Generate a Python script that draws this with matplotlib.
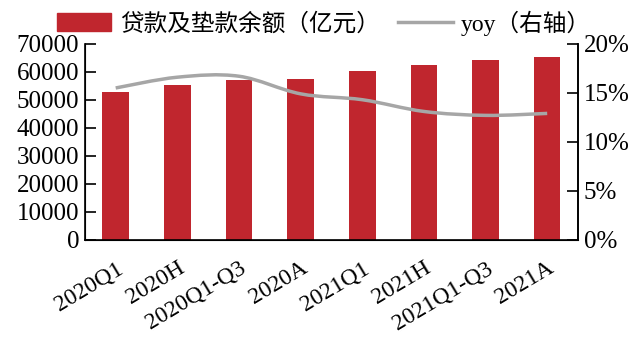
import numpy as np
import matplotlib
matplotlib.use('Agg')
import matplotlib.pyplot as plt
from matplotlib.path import Path
from matplotlib.patches import PathPatch, Patch
from matplotlib.lines import Line2D

# data
periods = ['2020Q1', '2020H', '2020Q1-Q3', '2020A',
           '2021Q1', '2021H', '2021Q1-Q3', '2021A']
loans = [52900, 55300, 57100, 57600, 60300, 62500, 64300, 65200]
yoy = [15.5, 16.6, 16.7, 14.9, 14.3, 13.1, 12.7, 12.9]

plt.rcParams['font.family'] = ['Liberation Serif', 'Noto Sans CJK SC']
plt.rcParams['font.size'] = 18

bar_color = '#C0262E'
line_color = '#A6A6A6'

fig = plt.figure(figsize=(6.38, 3.38), dpi=100)
ax = fig.add_axes([0.133, 0.291, 0.773, 0.579])
x = np.arange(len(periods))
ax.bar(x, loans, width=0.43, color=bar_color, zorder=2)
ax.set_xlim(-0.5, len(periods) - 0.5)
ax.set_ylim(0, 70000)
ax.set_yticks(range(0, 70001, 10000))
ax.set_xticks(x)
ax.set_xticklabels(periods, rotation=31, ha='right', rotation_mode='anchor',
                   fontsize=17)
ax.tick_params(axis='x', length=0, pad=13)
ax.tick_params(axis='y', direction='in', length=8, width=1.2, pad=4)
ax.spines['top'].set_visible(False)
for s in ['left', 'right', 'bottom']:
    ax.spines[s].set_linewidth(1.2)

ax2 = ax.twinx()
ax2.set_ylim(0, 20)
ax2.set_yticks([0, 5, 10, 15, 20])
ax2.set_yticklabels([f'{v}%' for v in [0, 5, 10, 15, 20]])
ax2.tick_params(axis='y', direction='in', length=8, width=1.2, pad=4)
ax2.spines['top'].set_visible(False)
ax2.spines['right'].set_linewidth(1.2)

# smoothed line (Catmull-Rom as cubic Bezier segments)
xs = list(x)
ys = list(yoy)
verts = [(xs[0], ys[0])]
codes = [Path.MOVETO]
n = len(xs)
for i in range(n - 1):
    p0 = (xs[max(i - 1, 0)], ys[max(i - 1, 0)])
    p1 = (xs[i], ys[i])
    p2 = (xs[i + 1], ys[i + 1])
    p3 = (xs[min(i + 2, n - 1)], ys[min(i + 2, n - 1)])
    c1 = (p1[0] + (p2[0] - p0[0]) / 6, p1[1] + (p2[1] - p0[1]) / 6)
    c2 = (p2[0] - (p3[0] - p1[0]) / 6, p2[1] - (p3[1] - p1[1]) / 6)
    verts += [c1, c2, p2]
    codes += [Path.CURVE4] * 3
ax2.add_patch(PathPatch(Path(verts, codes), facecolor='none',
                        edgecolor=line_color, linewidth=2.5, zorder=3))

handles = [Patch(color=bar_color), Line2D([0], [0], color=line_color, lw=2.5)]
labels = ['贷款及垫款余额（亿元）', 'yoy（右轴）']
fig.legend(handles, labels, loc='center', bbox_to_anchor=(0.508, 1 - 23 / 338),
           ncol=2, frameon=False, fontsize=17, handlelength=2.3,
           handleheight=0.8, columnspacing=0.8, handletextpad=0.35,
           borderpad=0, borderaxespad=0)

fig.savefig('out.png', dpi=100)
